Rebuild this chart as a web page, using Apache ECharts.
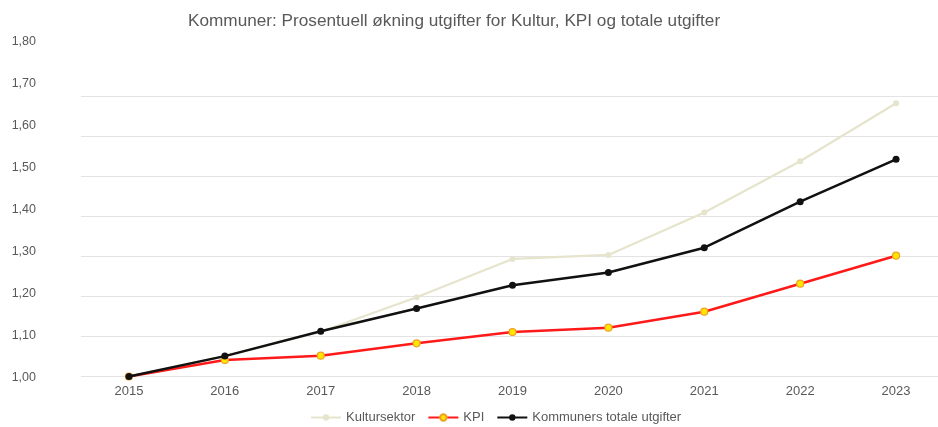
<!DOCTYPE html>
<html>
<head>
<meta charset="utf-8">
<script src="https://cdn.jsdelivr.net/npm/echarts@6/dist/echarts.min.js"></script>
<style>
html,body{margin:0;padding:0;background:#fff;overflow:hidden;}
#c{width:944px;height:427px;}
</style>
</head>
<body>
<div id="c"></div>
<script>
const years = ['2015','2016','2017','2018','2019','2020','2021','2022','2023'];
const kultursektor = [1.00, 1.051, 1.112, 1.198, 1.294, 1.304, 1.410, 1.538, 1.683];
const kpi = [1.00, 1.041, 1.052, 1.083, 1.111, 1.122, 1.162, 1.232, 1.302];
const kommuner = [1.00, 1.051, 1.113, 1.170, 1.228, 1.260, 1.322, 1.437, 1.543];
const yMin = 1.0, yMax = 1.8, yStep = 0.1;

const chart = echarts.init(document.getElementById('c'));
const font = 'Liberation Sans, Arial, sans-serif';
const fmt = v => v.toFixed(2).replace('.', ',');
chart.setOption({
  animation: false,
  title: {
    text: 'Kommuner: Prosentuell økning utgifter for Kultur, KPI og totale utgifter',
    left: 183, top: 8,
    textStyle: {fontFamily: font, fontSize: 17.2, fontWeight: 'normal', color: '#595959'}
  },
  legend: {
    top: 406, left: 305,
    itemWidth: 30, itemHeight: 8, itemGap: 12,
    textStyle: {fontFamily: font, fontSize: 13, color: '#595959'},
    data: ['Kultursektor', 'KPI', 'Kommuners totale utgifter']
  },
  grid: [
    {left: 81, top: 56.5, right: 0, height: 320},
    {left: 81, top: 41.5, right: 0, height: 336.5}
  ],
  xAxis: [
    {type: 'category', data: years, boundaryGap: true, gridIndex: 0,
     axisLine: {show: false}, axisTick: {show: false},
     axisLabel: {fontFamily: font, fontSize: 13, color: '#595959', margin: 8}},
    {type: 'category', data: years, gridIndex: 1, show: false}
  ],
  yAxis: [
    {type: 'value', min: yMin, max: yMax, interval: yStep, gridIndex: 0,
     axisLine: {show: false}, axisTick: {show: false},
     splitLine: {show: true, showMaxLine: false, lineStyle: {color: '#e3e3e3', width: 1}},
     axisLabel: {show: false}},
    {type: 'value', min: yMin, max: yMax, interval: yStep, gridIndex: 1,
     axisLine: {show: false}, axisTick: {show: false}, splitLine: {show: false},
     axisLabel: {fontFamily: font, fontSize: 12.5, color: '#595959', margin: 45, formatter: fmt}}
  ],
  series: [
    {name: 'Kultursektor', type: 'line', data: kultursektor, symbol: 'circle', symbolSize: 6,
     lineStyle: {color: '#e6e4cc', width: 2.2}, itemStyle: {color: '#e6e4cc'}, z: 1},
    {name: 'KPI', type: 'line', data: kpi, symbol: 'circle', symbolSize: 7,
     lineStyle: {color: '#ff1a1a', width: 2.5}, itemStyle: {color: '#ffe600', borderColor: '#f0a020', borderWidth: 1.2}, z: 2},
    {name: 'Kommuners totale utgifter', type: 'line', data: kommuner, symbol: 'circle', symbolSize: 7,
     lineStyle: {color: '#111111', width: 2.5}, itemStyle: {color: '#111111'}, z: 3}
  ]
});
</script>
</body>
</html>
